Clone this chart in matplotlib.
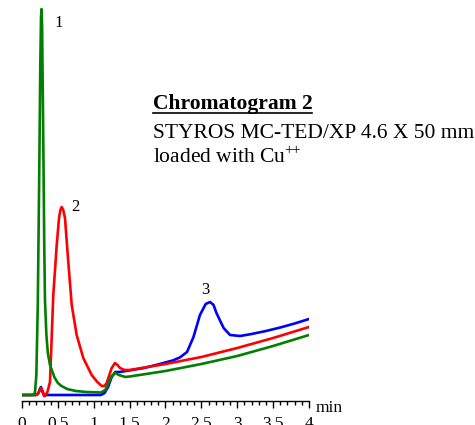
import matplotlib
matplotlib.use('Agg')
import matplotlib.pyplot as plt
from matplotlib.ticker import MultipleLocator

plt.rcParams['font.family'] = ['Liberation Serif', 'DejaVu Serif']
plt.rcParams['mathtext.fontset'] = 'custom'
plt.rcParams['mathtext.rm'] = 'Liberation Serif'
plt.rcParams['mathtext.bf'] = 'Liberation Serif:bold'

# retention time (min) / detector signal (arbitrary units)
green_t = [0, 0.15, 0.18, 0.20, 0.22, 0.24, 0.255, 0.265, 0.272, 0.28, 0.29, 0.30, 0.31,
           0.32, 0.34, 0.36, 0.39, 0.45, 0.5, 0.55, 0.63, 0.75, 0.9, 1.1, 1.16, 1.2, 1.25,
           1.3, 1.35, 1.44, 1.5, 2.0, 2.5, 3.0, 3.5, 4.0]
green_s = [0, 0, 2, 20, 90, 220, 330, 378, 386, 370, 300, 230, 150,
           95, 60, 42, 30, 18, 12, 9, 6, 4, 3, 2.5, 5, 11, 19,
           22, 20, 18, 18.5, 24, 31, 39, 49, 60]

red_t = [0, 0.18, 0.22, 0.265, 0.29, 0.31, 0.35, 0.39, 0.436, 0.484, 0.516, 0.535, 0.553,
         0.575, 0.599, 0.645, 0.693, 0.762, 0.854, 0.971, 1.05, 1.111, 1.15, 1.18, 1.25,
         1.296, 1.33, 1.366, 1.43, 1.5, 2.0, 2.5, 3.0, 3.5, 4.0]
red_s = [0, 0, 1, 7, 4, -1, 2, 13, 100, 150, 177, 185, 188,
         185, 177, 133, 90, 60, 37, 20, 13, 9, 9, 12, 27,
         32, 30, 27, 25, 25, 31, 38, 47, 57, 68]

blue_t = [0, 0.2, 0.23, 0.25, 0.265, 0.28, 0.31, 0.34, 0.4, 1.1, 1.15, 1.2, 1.25, 1.3,
          1.36, 1.45, 1.7, 1.92, 2.1, 2.2, 2.3, 2.39, 2.48, 2.56, 2.62, 2.67, 2.71, 2.81,
          2.9, 3.04, 3.2, 3.4, 3.6, 3.8, 4.0]
blue_s = [0, 0, 2, 6, 8, 4, -1, 0, 0, 0, 2, 8, 18, 23,
          23, 24, 27, 31, 34.5, 37.5, 43, 58, 80, 91, 93, 90, 82, 67,
          60, 59, 61, 64, 67.5, 71.5, 76]

tick_pos = [0, 0.5, 1, 1.5, 2, 2.5, 3, 3.5, 4]
tick_labels = ['0', '0.5', '1', '1.5', '2', '2.5', '3', '3.5', '4']

peak_labels = ['1', '2', '3']
peak_label_pos = [(0.509, 372), (0.746, 188), (2.557, 105)]

fig = plt.figure(figsize=(4.75, 4.25), dpi=100)
ax = fig.add_axes([22 / 475, 24 / 425, 287 / 475, 401 / 425])

ax.plot(blue_t, blue_s, color='#0000ff', lw=1.9, zorder=2, solid_joinstyle='round')
ax.plot(red_t, red_s, color='#ff0000', lw=1.9, zorder=3, solid_joinstyle='round')
ax.plot(green_t, green_s, color='#007f00', lw=1.9, zorder=4, solid_joinstyle='round')

ax.set_xlim(0, 4)
ax.set_ylim(-6, 395)
for side in ['left', 'right', 'top']:
    ax.spines[side].set_visible(False)
ax.spines['bottom'].set_linewidth(1.0)
ax.set_yticks([])
ax.set_xticks(tick_pos)
ax.set_xticklabels(tick_labels)
ax.xaxis.set_minor_locator(MultipleLocator(0.1))
ax.tick_params(axis='x', which='major', direction='out', length=5, width=1.0,
               labelsize=12.5, pad=6)
ax.tick_params(axis='x', which='minor', direction='out', length=3, width=1.0)

for lbl, (x, y) in zip(peak_labels, peak_label_pos):
    ax.text(x, y, lbl, fontsize=12, ha='center', va='center')

fig.text(316 / 475, 1 - 408 / 425, 'min', fontsize=12.5, ha='left', va='center')

fig.text(153 / 475, 1 - 104 / 425, 'Chromatogram 2', fontsize=15.5, fontweight='bold',
         ha='left', va='center')
fig.add_artist(plt.Line2D([153 / 475, 312 / 475], [1 - 113 / 425, 1 - 113 / 425],
                          color='black', lw=1.2, transform=fig.transFigure))
fig.text(153 / 475, 1 - 133 / 425, 'STYROS MC-TED/XP 4.6 X 50 mm', fontsize=15.5,
         ha='left', va='center')
fig.text(153 / 475, 1 - 157 / 425, r'loaded with Cu$^{+\!\!+}$', fontsize=15.5,
         ha='left', va='center')

fig.savefig('out.png', dpi=100)
